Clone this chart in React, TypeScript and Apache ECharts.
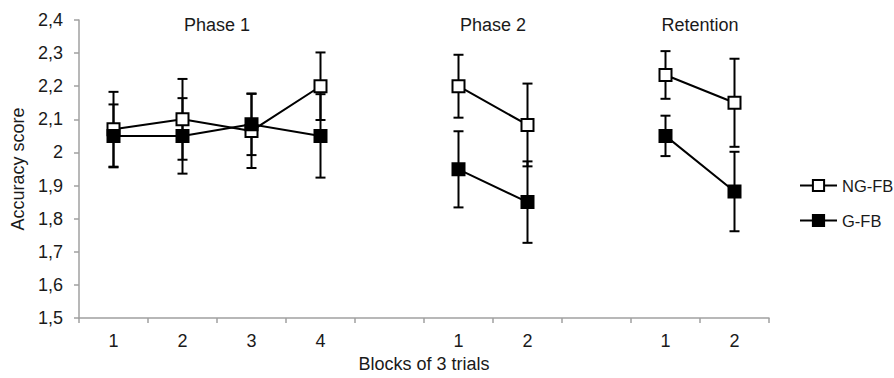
import React, { useEffect, useRef } from "react";
import * as echarts from "echarts";

const blockIds = ["p1-1", "p1-2", "p1-3", "p1-4", "gap1", "p2-1", "p2-2", "gap2", "r-1", "r-2"];
const blockLabels = ["1", "2", "3", "4", "", "1", "2", "", "1", "2"];
const phaseTitles = ["Phase 1", "Phase 2", "Retention"];
const phaseCenters = [1.5, 5.5, 8.5]; // category index centre of each phase

const ngMean = [2.07, 2.1, 2.065, 2.2, null, 2.2, 2.083, null, 2.234, 2.15];
const ngErr = [0.113, 0.122, 0.112, 0.102, null, 0.095, 0.125, null, 0.072, 0.133];
const gMean = [2.05, 2.05, 2.085, 2.05, null, 1.949, 1.85, null, 2.05, 1.882];
const gErr = [0.095, 0.114, 0.093, 0.126, null, 0.115, 0.123, null, 0.061, 0.12];

const FONT = "'Liberation Sans', Arial, sans-serif";
const TEXT = "#1a1a1a";
const AXIS = "#a0a0a0";
const FS = 18;

function errData(mean: (number | null)[], err: (number | null)[]) {
  const out: number[][] = [];
  mean.forEach((m, i) => {
    const e = err[i];
    if (m != null && e != null) out.push([i, m - e, m + e]);
  });
  return out;
}

function renderErr(params: any, api: any) {
  const x = api.value(0);
  const lo = api.coord([x, api.value(1)]);
  const hi = api.coord([x, api.value(2)]);
  const hw = 5;
  const style = { stroke: "#000", lineWidth: 2 };
  return {
    type: "group",
    children: [
      { type: "line", shape: { x1: lo[0], y1: lo[1], x2: hi[0], y2: hi[1] }, style },
      { type: "line", shape: { x1: lo[0] - hw, y1: lo[1], x2: lo[0] + hw, y2: lo[1] }, style },
      { type: "line", shape: { x1: hi[0] - hw, y1: hi[1], x2: hi[0] + hw, y2: hi[1] }, style },
    ],
  };
}

export default function App() {
  const ref = useRef<HTMLDivElement>(null);
  useEffect(() => {
    if (!ref.current) return;
    const chart = echarts.init(ref.current, null, { renderer: "svg" });
    const gridLeft = 79;
    const gridRight = 125;
    const plotW = 894 - gridLeft - gridRight;
    const step = plotW / blockIds.length;
    chart.setOption({
      animation: false,
      backgroundColor: "#fff",
      textStyle: { fontFamily: FONT, color: TEXT },
      grid: { left: gridLeft, right: gridRight, top: 20, bottom: 57 },
      graphic: phaseTitles.map((t, i) => ({
        type: "text",
        x: gridLeft + (phaseCenters[i] + 0.5) * step,
        y: 25,
        style: { text: t, align: "center", verticalAlign: "middle", font: `${FS}px ${FONT}`, fill: TEXT },
      })),
      legend: {
        orient: "vertical",
        left: 794,
        top: 172,
        itemWidth: 37,
        itemHeight: 14,
        itemGap: 18,
        textStyle: { fontSize: 16.5, color: TEXT, fontFamily: FONT },
        data: ["NG-FB", "G-FB"],
      },
      xAxis: {
        type: "category",
        data: blockIds,
        boundaryGap: true,
        name: "Blocks of 3 trials",
        nameLocation: "middle",
        nameGap: 37,
        nameTextStyle: { fontSize: FS, color: TEXT },
        axisLine: { lineStyle: { color: AXIS, width: 1.5 } },
        axisTick: { show: true, length: 5, lineStyle: { color: AXIS, width: 1.5 } },
        axisLabel: {
          fontSize: FS,
          color: TEXT,
          margin: 14,
          formatter: (_v: string, idx: number) => blockLabels[idx],
        },
        splitLine: { show: false },
      },
      yAxis: {
        type: "value",
        min: 1.5,
        max: 2.4,
        interval: 0.1,
        name: "Accuracy score",
        nameLocation: "middle",
        nameGap: 47,
        nameTextStyle: { fontSize: FS, color: TEXT },
        axisLine: { show: true, lineStyle: { color: AXIS, width: 1.5 } },
        axisTick: { show: true, length: 5, lineStyle: { color: AXIS, width: 1.5 } },
        axisLabel: {
          fontSize: FS,
          color: TEXT,
          margin: 16,
          formatter: (v: number) => String(Math.round(v * 10) / 10).replace(".", ","),
        },
        splitLine: { show: false },
      },
      series: [
        {
          type: "custom",
          name: "ngErr",
          data: errData(ngMean, ngErr),
          renderItem: renderErr,
          encode: { x: 0, y: [1, 2] },
          z: 1,
          silent: true,
        },
        {
          type: "custom",
          name: "gErr",
          data: errData(gMean, gErr),
          renderItem: renderErr,
          encode: { x: 0, y: [1, 2] },
          z: 1,
          silent: true,
        },
        {
          type: "line",
          name: "NG-FB",
          data: ngMean.map((v) => (v == null ? "-" : v)),
          connectNulls: false,
          symbol: "rect",
          symbolSize: 12,
          lineStyle: { color: "#000", width: 2 },
          itemStyle: { color: "#fff", borderColor: "#000", borderWidth: 2 },
          z: 2,
        },
        {
          type: "line",
          name: "G-FB",
          data: gMean.map((v) => (v == null ? "-" : v)),
          connectNulls: false,
          symbol: "rect",
          symbolSize: 12,
          lineStyle: { color: "#000", width: 2 },
          itemStyle: { color: "#000", borderColor: "#000", borderWidth: 2 },
          z: 3,
        },
      ],
    });
    return () => chart.dispose();
  }, []);
  return (
    <div
      ref={ref}
      style={{ position: "fixed", left: 0, top: 0, width: 894, height: 378, background: "#fff" }}
    />
  );
}
